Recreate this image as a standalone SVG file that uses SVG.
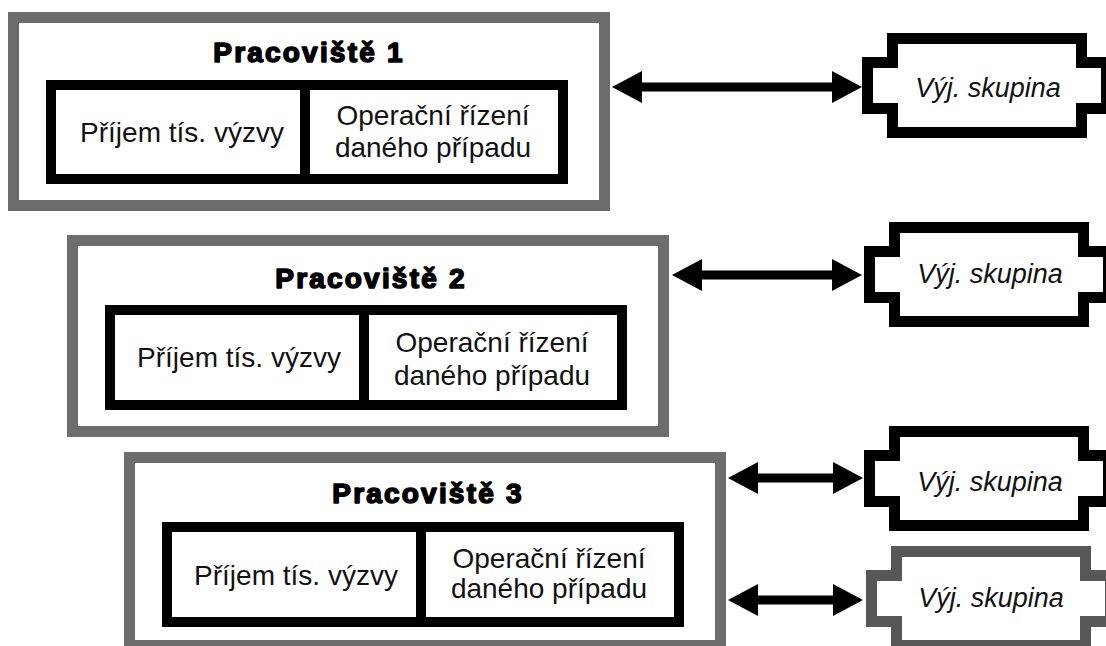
<svg xmlns="http://www.w3.org/2000/svg" width="1106" height="646" viewBox="0 0 1106 646">
<defs>
<style>
.outer{fill:#fff;stroke:#6d6d6d;stroke-width:11}
.inner{fill:#fff;stroke:#000;stroke-width:10}
.div{stroke:#000;stroke-width:10}
.title{font-family:"Liberation Sans",Arial,sans-serif;font-size:28px;font-weight:bold;letter-spacing:2.2px;fill:#000;stroke:#000;stroke-width:1.6;stroke-linejoin:round;text-anchor:middle}
.lbl{font-family:"Liberation Sans",Arial,sans-serif;font-size:28px;fill:#111;text-anchor:middle}
.vyj{fill:#fff;stroke:#000;stroke-width:11}
.vyjg{fill:#fff;stroke:#575757;stroke-width:11}
.vt{font-family:"Liberation Sans",Arial,sans-serif;font-size:27px;font-style:italic;fill:#111;text-anchor:middle}
.arr{stroke:#000;stroke-width:9;marker-start:url(#head);marker-end:url(#head)}
</style>
<marker id="head" markerUnits="userSpaceOnUse" markerWidth="30" markerHeight="32" refX="2" refY="16" orient="auto-start-reverse" viewBox="0 0 30 32">
<path d="M0,0 L30,16 L0,32 Z" fill="#000"/>
</marker>
</defs>
<rect width="1106" height="646" fill="#fff"/>

<g id="pracoviste1">
<rect class="outer" x="13.5" y="17.5" width="591" height="188"/>
<text class="title" x="309" y="62">Pracoviště 1</text>
<rect class="inner" x="51" y="85" width="512" height="94"/>
<line class="div" x1="305" y1="85" x2="305" y2="179"/>
<text class="lbl" x="182" y="142">Příjem tís. výzvy</text>
<text class="lbl" x="433" y="125">Operační řízení</text>
<text class="lbl" x="433" y="157">daného případu</text>
</g>

<g id="pracoviste2">
<rect class="outer" x="72.5" y="240.5" width="591" height="191"/>
<text class="title" x="371" y="288">Pracoviště 2</text>
<rect class="inner" x="110" y="310" width="512" height="95"/>
<line class="div" x1="364" y1="310" x2="364" y2="405"/>
<text class="lbl" x="239" y="367">Příjem tís. výzvy</text>
<text class="lbl" x="492" y="352">Operační řízení</text>
<text class="lbl" x="492" y="385">daného případu</text>
</g>

<g id="pracoviste3">
<rect class="outer" x="129.5" y="457.5" width="591" height="188"/>
<text class="title" x="428" y="503">Pracoviště 3</text>
<rect class="inner" x="167" y="527" width="512" height="95"/>
<line class="div" x1="421" y1="527" x2="421" y2="622"/>
<text class="lbl" x="296" y="585">Příjem tís. výzvy</text>
<text class="lbl" x="549" y="568">Operační řízení</text>
<text class="lbl" x="549" y="598">daného případu</text>
</g>

<g id="vyj1">
<path class="vyj" d="M892.5,38.5 H1081.5 V62.5 H1106.5 V108.5 H1081.5 V132.5 H892.5 V108.5 H867.5 V62.5 H892.5 Z"/>
<text class="vt" x="988" y="97">Výj. skupina</text>
</g>

<g id="vyj2">
<path class="vyj" d="M894.5,227.5 H1083.5 V251.5 H1108.5 V297.5 H1083.5 V321.5 H894.5 V297.5 H869.5 V251.5 H894.5 Z"/>
<text class="vt" x="990" y="283">Výj. skupina</text>
</g>

<g id="vyj3">
<path class="vyj" d="M894.5,431.5 H1083.5 V455.5 H1108.5 V501.5 H1083.5 V525.5 H894.5 V501.5 H869.5 V455.5 H894.5 Z"/>
<text class="vt" x="990" y="491">Výj. skupina</text>
</g>

<g id="vyj4">
<path class="vyjg" d="M896.5,551.5 H1085.5 V575.5 H1110.5 V621.5 H1085.5 V645.5 H896.5 V621.5 H871.5 V575.5 H896.5 Z"/>
<text class="vt" x="991" y="607">Výj. skupina</text>
</g>

<g id="connectors">
<line class="arr" x1="640" y1="87" x2="834" y2="87"/>
<line class="arr" x1="700" y1="275" x2="834" y2="275"/>
<line class="arr" x1="756" y1="478" x2="835" y2="478"/>
<line class="arr" x1="756" y1="600" x2="835" y2="600"/>
</g>
</svg>
